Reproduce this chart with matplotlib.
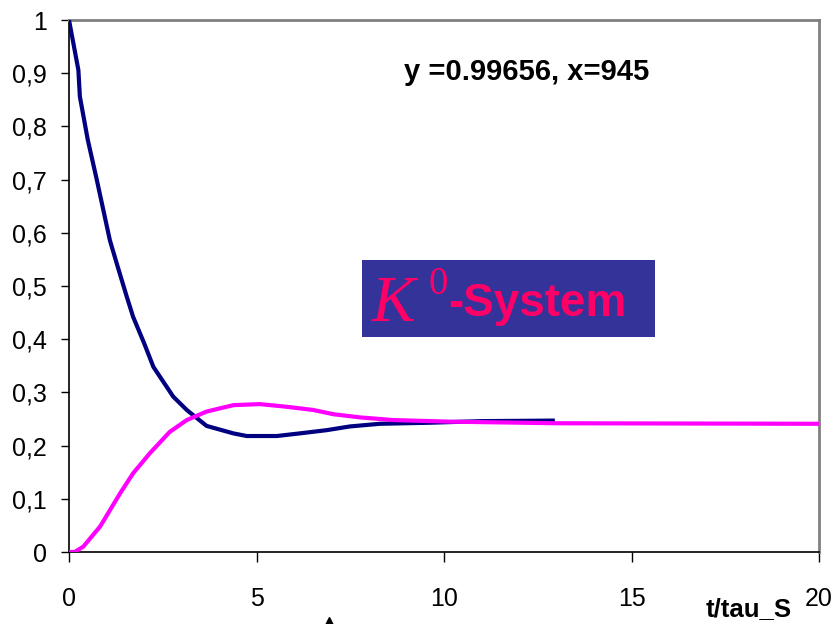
import matplotlib
matplotlib.use("Agg")
import matplotlib.pyplot as plt
from matplotlib.lines import Line2D

# ---- data ----
t_blue = [0, 0.25, 0.29, 0.5, 0.74, 1.09, 1.3, 1.54, 1.71, 2.0, 2.25, 2.78, 3.14,
          3.67, 4.38, 4.74, 5.54, 6.16, 6.87, 7.49, 8.29, 9.63, 11.0, 12.9]
y_blue = [1.0, 0.906, 0.856, 0.775, 0.70, 0.586, 0.536, 0.48, 0.442, 0.393, 0.348,
          0.292, 0.267, 0.237, 0.223, 0.218, 0.218, 0.223, 0.229, 0.236, 0.241,
          0.243, 0.246, 0.247]

t_mag = [0, 0.15, 0.38, 0.83, 1.36, 1.71, 2.16, 2.69, 3.14, 3.67, 4.38, 5.09,
         5.8, 6.51, 7.05, 7.76, 8.65, 10.16, 13.0, 20.0]
y_mag = [0, 0, 0.01, 0.048, 0.110, 0.148, 0.186, 0.226, 0.248, 0.264, 0.276,
         0.278, 0.273, 0.267, 0.259, 0.253, 0.248, 0.245, 0.242, 0.241]

x_ticks = [0, 5, 10, 15, 20]
y_ticks = [0, 0.1, 0.2, 0.3, 0.4, 0.5, 0.6, 0.7, 0.8, 0.9, 1.0]
y_tick_labels = ["0", "0,1", "0,2", "0,3", "0,4", "0,5", "0,6", "0,7", "0,8", "0,9", "1"]

annot_text = "y =0.99656, x=945"
xlabel_text = "t/tau_S"

sans = ["Liberation Sans", "DejaVu Sans"]
serif = ["Liberation Serif", "DejaVu Serif"]

fig = plt.figure(figsize=(8.36, 6.24), dpi=100)
ax = fig.add_axes([69/836, 72/624, 750/836, 532/624])

ax.plot(t_blue, y_blue, color="#000080", lw=3.0, zorder=3)
ax.plot(t_mag, y_mag, color="#FF00FF", lw=3.0, zorder=4)

ax.set_xlim(0, 20)
ax.set_ylim(0, 1)
ax.set_xticks(x_ticks)
ax.set_xticklabels([str(v) for v in x_ticks], fontfamily=sans, fontsize=18)
ax.set_yticks(y_ticks)
ax.set_yticklabels(y_tick_labels, fontfamily=sans, fontsize=18)
ax.tick_params(axis="y", direction="out", length=6, width=1.0, pad=10, colors="black")
ax.tick_params(axis="x", direction="out", length=7.5, width=1.0, pad=18, colors="black")

for side in ("left", "bottom"):
    ax.spines[side].set_color("black")
    ax.spines[side].set_linewidth(1.2)
for side in ("top", "right"):
    ax.spines[side].set_color("#808080")
    ax.spines[side].set_linewidth(2.0)

# annotation text
fig.text(527/836, 1 - 72/624, annot_text, fontfamily=sans, fontsize=21,
         fontweight="bold", ha="center", va="center", color="black")

# x-label
fig.text(749/836, 1 - 609/624, xlabel_text, fontfamily=sans, fontsize=18.5,
         fontweight="bold", ha="center", va="center", color="black")

# K0-System box
box_l, box_r, box_t, box_b = 362, 655, 260, 337
fig.patches.append(plt.Rectangle((box_l/836, 1 - box_b/624), (box_r - box_l)/836,
                                 (box_b - box_t)/624, transform=fig.transFigure,
                                 facecolor="#333399", edgecolor="none", zorder=5))
pink = "#FF0066"
fig.text(372/836, 1 - 321/624, "K", fontfamily=serif,
         fontstyle="italic", fontsize=47, color=pink, ha="left", va="baseline", zorder=6)
fig.text(428/836, 1 - 294/624, "0", fontfamily=serif,
         fontsize=28, color=pink, ha="left", va="baseline", zorder=6)
fig.text(448/836, 1 - 316/624, "-System", fontfamily=sans,
         fontweight="bold", fontsize=33, color=pink, ha="left", va="baseline", zorder=6)

# small triangle marker at bottom edge
fig.add_artist(Line2D([329/836], [3/624], marker="^", markersize=6, color="black",
                      linestyle="none", transform=fig.transFigure))

fig.savefig("out.png", dpi=100)
